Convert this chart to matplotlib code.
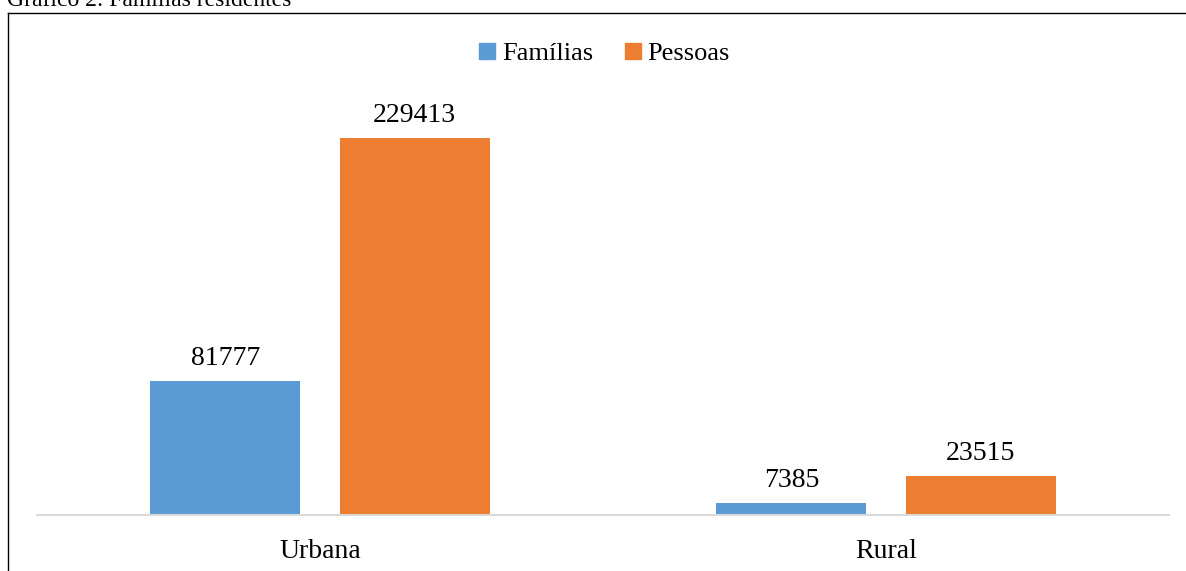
import matplotlib.pyplot as plt
from matplotlib.patches import Patch
from matplotlib.lines import Line2D

plt.rcParams['font.family'] = ['Liberation Serif', 'DejaVu Serif']

# dados
categorias = ['Urbana', 'Rural']
familias = [81777, 7385]
pessoas = [229413, 23515]

cor_familias = '#5B9BD5'
cor_pessoas = '#ED7D31'

fig = plt.figure(figsize=(11.86, 5.71), dpi=100)
ax = fig.add_axes([37 / 1186, 56 / 571, 1132 / 1186, 415 / 571])

x = list(range(len(categorias)))
largura = 0.265
desloc = 0.167
b1 = ax.bar([i - desloc for i in x], familias, largura, color=cor_familias, label='Famílias')
b2 = ax.bar([i + desloc for i in x], pessoas, largura, color=cor_pessoas, label='Pessoas')

for barras in (b1, b2):
    for r in barras:
        v = r.get_height()
        ax.annotate(f'{v:d}', (r.get_x() + r.get_width() / 2, v),
                    xytext=(0, 11.5), textcoords='offset points',
                    ha='center', va='baseline', fontsize=20)

ax.set_xlim(-0.5, 1.5)
ax.set_ylim(0, 415 / 377 * 229413)
ax.set_xticks(x)
ax.set_xticklabels(categorias, fontsize=20)
ax.tick_params(axis='x', length=0, pad=17)
ax.set_yticks([])
for s in ['top', 'right', 'left']:
    ax.spines[s].set_visible(False)
ax.spines['bottom'].set_color('#D9D9D9')
ax.spines['bottom'].set_linewidth(1.5)

ax.legend(handles=[Patch(color=cor_familias, label='Famílias'),
                   Patch(color=cor_pessoas, label='Pessoas')],
          loc='center', bbox_to_anchor=(604.5 / 1186, 1 - 54 / 571),
          bbox_transform=fig.transFigure, ncol=2, frameon=False, fontsize=19,
          handlelength=0.6, handleheight=0.6, handletextpad=0.25,
          columnspacing=1.2, borderpad=0)

# moldura do gráfico
fig.add_artist(Line2D([8 / 1186, 8 / 1186], [0, 1 - 13 / 571], color='black',
                      linewidth=1.0, transform=fig.transFigure))
fig.add_artist(Line2D([8 / 1186, 1.0], [1 - 13 / 571, 1 - 13 / 571], color='black',
                      linewidth=1.0, transform=fig.transFigure))

fig.text(7 / 1186, 1 - 6.5 / 571, 'Gráfico 2: Famílias residentes',
         fontsize=17, ha='left', va='baseline')

fig.savefig('out.png', dpi=100)
